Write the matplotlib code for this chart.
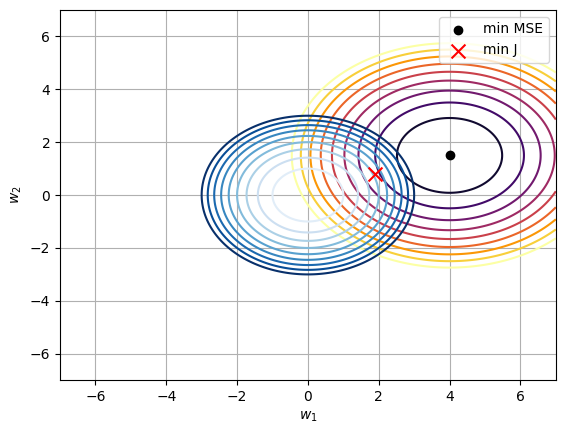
import numpy as np
import matplotlib.pyplot as plt

mse_center = [4.0, 1.5]
mse_xscale = 1.05
mse_levels = [2, 4, 6, 8, 10, 12, 14, 16, 18]
l2_levels = [1, 2, 3, 4, 5, 6, 7, 8, 9]
min_mse = [4.0, 1.5]
min_j = [1.9, 0.8]

w1 = np.linspace(-7, 7, 500)
w2 = np.linspace(-7, 7, 500)
W1, W2 = np.meshgrid(w1, w2)
mse = ((W1 - mse_center[0]) / mse_xscale) ** 2 + (W2 - mse_center[1]) ** 2
l2 = W1 ** 2 + W2 ** 2

fig, ax = plt.subplots(figsize=(5.66, 4.33), dpi=100)
fig.subplots_adjust(left=0.106, right=0.982, top=0.977, bottom=0.122)
ax.contour(W1, W2, mse, levels=mse_levels, cmap='inferno', vmin=0.5, vmax=18)
ax.contour(W1, W2, l2, levels=l2_levels, cmap='Blues', vmin=0, vmax=9)
ax.scatter(min_mse[0], min_mse[1], c='black', label='min MSE', zorder=3)
ax.scatter(min_j[0], min_j[1], c='red', marker='x', s=100, label='min J', zorder=3)
ax.set_xlim(-7, 7)
ax.set_ylim(-7, 7)
ax.set_xlabel('$w_1$')
ax.set_ylabel('$w_2$')
ax.grid(True)
ax.legend(loc='upper right')
fig.savefig('out.png')
